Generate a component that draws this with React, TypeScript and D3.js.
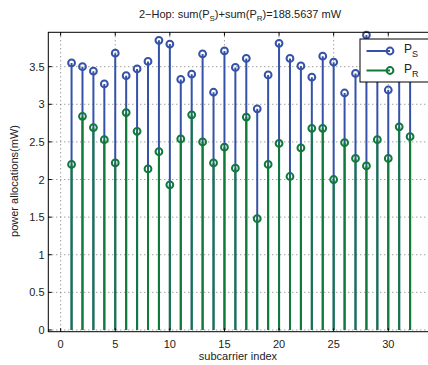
import React, { useEffect, useRef } from 'react';
import * as d3 from 'd3';

const subcarriers = d3.range(1, 33);
const powerS = [3.55, 3.5, 3.44, 3.27, 3.68, 3.38, 3.47, 3.57, 3.85, 3.8, 3.33, 3.4, 3.67, 3.16, 3.71, 3.49,
  3.61, 2.94, 3.39, 3.81, 3.61, 3.51, 3.36, 3.64, 3.56, 3.15, 3.41, 3.92, 3.6, 3.19, 3.62, 3.55];
const powerR = [2.2, 2.84, 2.69, 2.53, 2.22, 2.89, 2.64, 2.14, 2.37, 1.93, 2.54, 2.86, 2.5, 2.22, 2.43, 2.15,
  2.83, 1.48, 2.2, 2.48, 2.04, 2.42, 2.68, 2.68, 2.0, 2.49, 2.28, 2.18, 2.53, 2.28, 2.7, 2.57];
const xTicks = [0, 5, 10, 15, 20, 25, 30];
const yTicks = [0, 0.5, 1, 1.5, 2, 2.5, 3, 3.5];

const blue = '#3552a8';
const green = '#0f7a3a';
const font = 'Liberation Sans, Arial, Helvetica, sans-serif';

function App() {
  const svgRef = useRef<SVGSVGElement>(null);
  const width = 428;
  const height = 365;
  const left = 48.3, right = 429, top = 32.3, bottom = 331.7;

  useEffect(() => {
    const svg = d3.select(svgRef.current);
    svg.selectAll('*').remove();

    const x = d3.scaleLinear().domain([-1.13, 33.73]).range([left, right]);
    const y = d3.scaleLinear().domain([-0.023, 3.957]).range([bottom, top]);

    svg.append('rect').attr('width', width).attr('height', height).attr('fill', 'white');

    // grid
    const grid = svg.append('g').attr('stroke', '#555').attr('stroke-width', 0.8).attr('stroke-dasharray', '1,3');
    grid.selectAll('.gx').data(xTicks).enter().append('line')
      .attr('x1', d => x(d)).attr('x2', d => x(d)).attr('y1', top).attr('y2', bottom);
    grid.selectAll('.gy').data(yTicks).enter().append('line')
      .attr('x1', left).attr('x2', right).attr('y1', d => y(d)).attr('y2', d => y(d));

    // stems S
    const stems = svg.append('g');
    stems.selectAll('.ls').data(subcarriers).enter().append('line')
      .attr('x1', d => x(d)).attr('x2', d => x(d))
      .attr('y1', y(0)).attr('y2', (d, i) => y(powerS[i]))
      .attr('stroke', blue).attr('stroke-width', 2);
    stems.selectAll('.cs').data(subcarriers).enter().append('circle')
      .attr('cx', d => x(d)).attr('cy', (d, i) => y(powerS[i])).attr('r', 3.4)
      .attr('fill', 'none').attr('stroke', blue).attr('stroke-width', 2);

    // stems R
    stems.selectAll('.lr').data(subcarriers).enter().append('line')
      .attr('x1', d => x(d)).attr('x2', d => x(d))
      .attr('y1', y(0)).attr('y2', (d, i) => y(powerR[i]))
      .attr('stroke', green).attr('stroke-width', 2);
    stems.selectAll('.cr').data(subcarriers).enter().append('circle')
      .attr('cx', d => x(d)).attr('cy', (d, i) => y(powerR[i])).attr('r', 3.4)
      .attr('fill', 'none').attr('stroke', green).attr('stroke-width', 2);

    // frame
    svg.append('rect').attr('x', left).attr('y', top).attr('width', right - left).attr('height', bottom - top)
      .attr('fill', 'none').attr('stroke', '#000').attr('stroke-width', 1);

    // ticks
    const tk = svg.append('g').attr('stroke', '#000').attr('stroke-width', 1);
    xTicks.forEach(t => {
      tk.append('line').attr('x1', x(t)).attr('x2', x(t)).attr('y1', bottom).attr('y2', bottom - 3.5);
      tk.append('line').attr('x1', x(t)).attr('x2', x(t)).attr('y1', top).attr('y2', top + 3.5);
    });
    yTicks.forEach(t => {
      tk.append('line').attr('x1', left).attr('x2', left + 3.5).attr('y1', y(t)).attr('y2', y(t));
    });

    // tick labels
    svg.append('g').selectAll('text').data(xTicks).enter().append('text')
      .attr('x', d => x(d)).attr('y', 348).attr('text-anchor', 'middle')
      .attr('font-family', font).attr('font-size', 11).attr('fill', '#222').text(d => d);
    svg.append('g').selectAll('text').data(yTicks).enter().append('text')
      .attr('x', 44.5).attr('y', d => y(d) + 4).attr('text-anchor', 'end')
      .attr('font-family', font).attr('font-size', 11).attr('fill', '#222').text(d => d);

    // axis labels
    svg.append('text').attr('x', 238).attr('y', 360).attr('text-anchor', 'middle')
      .attr('font-family', font).attr('font-size', 11).attr('fill', '#222').text('subcarrier index');
    svg.append('text').attr('transform', 'translate(18,181) rotate(-90)').attr('text-anchor', 'middle')
      .attr('font-family', font).attr('font-size', 11).attr('fill', '#222').text('power allocations(mW)');

    // title
    const title = svg.append('text').attr('x', 240).attr('y', 18).attr('text-anchor', 'middle')
      .attr('font-family', font).attr('font-size', 11).attr('fill', '#222');
    title.append('tspan').text('2\u2212Hop: sum(P');
    title.append('tspan').attr('font-size', 8).attr('dy', 3).text('S');
    title.append('tspan').attr('dy', -3).text(')+sum(P');
    title.append('tspan').attr('font-size', 8).attr('dy', 3).text('R');
    title.append('tspan').attr('dy', -3).text(')=188.5637 mW');

    // legend
    const lg = svg.append('g');
    lg.append('rect').attr('x', 360).attr('y', 39).attr('width', 72).attr('height', 43)
      .attr('fill', 'white').attr('stroke', '#000').attr('stroke-width', 1);
    const items = [{ c: blue, s: 'S', yy: 51 }, { c: green, s: 'R', yy: 70.5 }];
    items.forEach(it => {
      lg.append('line').attr('x1', 366.5).attr('x2', 390).attr('y1', it.yy).attr('y2', it.yy)
        .attr('stroke', it.c).attr('stroke-width', 2);
      lg.append('circle').attr('cx', 390).attr('cy', it.yy).attr('r', 3.4)
        .attr('fill', 'none').attr('stroke', it.c).attr('stroke-width', 2);
      const t = lg.append('text').attr('x', 404).attr('y', it.yy + 2).attr('font-family', font)
        .attr('font-size', 12).attr('fill', '#222');
      t.append('tspan').text('P');
      t.append('tspan').attr('font-size', 9).attr('dy', 4).text(it.s);
    });
  }, []);

  return (
    <svg ref={svgRef} width={width} height={height}
      style={{ position: 'absolute', left: 0, top: 0 }}></svg>
  );
}

export default App;
